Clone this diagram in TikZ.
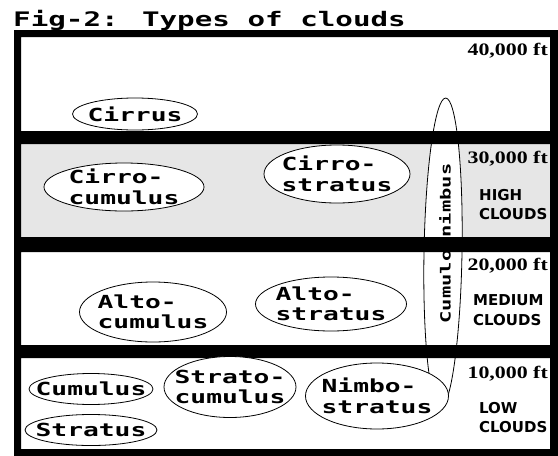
\documentclass[tikz,border=0pt]{standalone}
\usepackage{fontspec}
\usetikzlibrary{shapes.geometric}
\newfontfamily\pixfont[FakeStretch=1.46]{DejaVu Sans Mono}
\newfontfamily\altfont[FakeStretch=1.25]{Liberation Serif}
\newfontfamily\zonefont{DejaVu Sans}
\definecolor{panelgray}{RGB}{230,230,230}

\begin{document}
\begin{tikzpicture}[x=1pt,y=-1pt,
    cloud/.style={ellipse, draw, fill=white, line width=0.8pt, inner sep=-60pt,
      align=left, font=\pixfont\bfseries\fontsize{18}{20.5}\selectfont},
    altlabel/.style={anchor=base east, inner sep=0pt,
      font=\altfont\bfseries\fontsize{17.5}{20}\selectfont},
    zone/.style={anchor=west, inner sep=0pt, align=left,
      font=\zonefont\bfseries\fontsize{15}{19.5}\selectfont}]
    \useasboundingbox (0,0) rectangle (558,456);
    % Title
    \node[anchor=base west, inner sep=0pt, font=\pixfont\bfseries\fontsize{20}{22}\selectfont]
      (title) at (13,26) {Fig-2: Types of clouds};
    % Layers of the sky
    \foreach \top/\bot/\col in {37/131/white, 144/237/panelgray, 252/345/white, 358/449/white} {
        \fill[\col] (21,\top) rectangle (550,\bot);
    }
    % Cumulonimbus goes through the layers
    \node[cloud, rotate=89, minimum width=310, minimum height=38] (cumulonimbus) at (443,253) {};
    \node[rotate=90, inner sep=0pt, font=\pixfont\bfseries\fontsize{14}{16}\selectfont]
      (cbname) at (445,243.5) {Cumulo nimbus};
    % Frame and bars
    \fill[black, even odd rule] (14,30) rectangle (558,456)
      (21,37) rectangle (550,131) (21,144) rectangle (550,237)
      (21,252) rectangle (550,345) (21,358) rectangle (550,449);
    % Clouds
    \node[cloud, minimum width=125, minimum height=32] (cirrus) at (135,114) {Cirrus};
    \node[cloud, minimum width=160, minimum height=48] (cirrocumulus) at (124,187) {Cirro-\\cumulus};
    \node[cloud, minimum width=146, minimum height=58] (cirrostratus) at (337,174) {Cirro-\\stratus};
    \node[cloud, minimum width=147, minimum height=60] (altocumulus) at (153,312) {Alto-\\cumulus};
    \node[cloud, minimum width=151, minimum height=54] (altostratus) at (331,304) {Alto-\\stratus};
    \node[cloud, minimum width=124, minimum height=31] (cumulus) at (91,389) {Cumulus};
    \node[cloud, minimum width=132, minimum height=31] (stratus) at (91,430) {Stratus};
    \node[cloud, minimum width=132, minimum height=61] (stratocumulus) at (230,387) {Strato-\\cumulus};
    \node[cloud, minimum width=143, minimum height=66] (nimbostratus) at (377,396) {Nimbo-\\stratus};
    % Heights
    \foreach \alt/\y in {40/55, 30/163, 20/270, 10/378} {
        \node[altlabel] (alt\alt) at (548,\y) {\alt,000 ft};
    }
    % Layer names
    \node[zone] (high) at (479,204.5) {HIGH\\CLOUDS};
    \node[zone] (medium) at (473,310) {MEDIUM\\CLOUDS};
    \node[zone] (low) at (479,417.5) {LOW\\CLOUDS};
\end{tikzpicture}
\end{document}
